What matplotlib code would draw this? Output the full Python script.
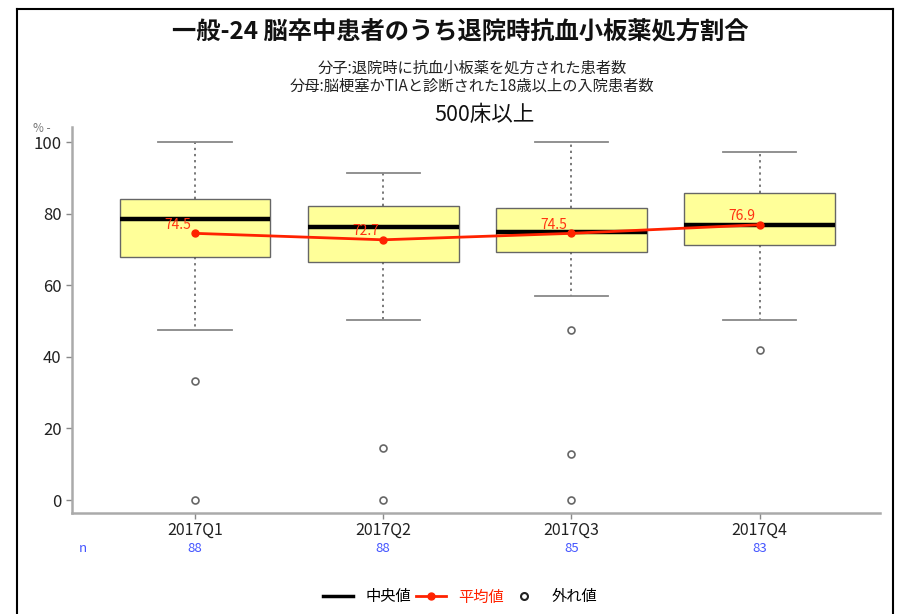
import numpy as np
import matplotlib
matplotlib.use('Agg')
import matplotlib.pyplot as plt
from matplotlib.lines import Line2D

plt.rcParams['font.family'] = ['Noto Sans CJK JP', 'DejaVu Sans']

# data
quarters = ['2017Q1', '2017Q2', '2017Q3', '2017Q4']
n_counts = [88, 88, 85, 83]
whis_lo = [47.5, 50.2, 57.1, 50.2]
q1 = [67.9, 66.6, 69.2, 71.2]
medians = [78.5, 76.3, 74.9, 76.9]
q3 = [84.2, 82.1, 81.7, 85.7]
whis_hi = [100.0, 91.3, 100.0, 97.1]
means = [74.5, 72.7, 74.5, 76.9]
outliers = [[33.3, 0.0], [14.5, 0.0], [47.5, 12.9, 0.0], [41.8]]

title = '一般-24 脳卒中患者のうち退院時抗血小板薬処方割合'
sub1 = '分子:退院時に抗血小板薬を処方された患者数'
sub2 = '分母:脳梗塞かTIAと診断された18歳以上の入院患者数'
group = '500床以上'

W, H = 897, 614
fig = plt.figure(figsize=(W / 100, H / 100), dpi=100)
ax = fig.add_axes([72 / W, 1 - 513 / H, (880 - 72) / W, (513 - 127) / H])

pos = np.arange(1, len(quarters) + 1)
stats = []
for i in range(len(quarters)):
    stats.append(dict(med=medians[i], q1=q1[i], q3=q3[i],
                      whislo=whis_lo[i], whishi=whis_hi[i],
                      fliers=outliers[i]))

ax.bxp(stats, positions=pos, widths=0.8, patch_artist=True,
       showfliers=True,
       boxprops=dict(facecolor='#ffff99', edgecolor='#666666', linewidth=1),
       medianprops=dict(color='black', linewidth=3.2),
       whiskerprops=dict(color='#555555', linestyle=(0, (1.5, 2.5)), linewidth=1.1),
       capprops=dict(color='#888888', linewidth=1.3),
       capwidths=0.39,
       flierprops=dict(marker='o', markerfacecolor='none',
                       markeredgecolor='#666666', markersize=5,
                       markeredgewidth=1.2))

ax.plot(pos, means, color='#ff2200', linewidth=2, marker='o',
        markersize=5, zorder=5)
for x, m in zip(pos, means):
    ax.annotate('%.1f' % m, (x, m), xytext=(-3, 6), textcoords='offset points',
                ha='right', va='center', color='#ff3311', fontsize=10)

ax.set_xlim(0.346, 4.64)
ax.set_ylim(-3.6, 104.2)
ax.set_xticks(pos)
ax.set_xticklabels(quarters, fontsize=11.5, color='#222222')
ax.set_yticks([0, 20, 40, 60, 80, 100])
ax.tick_params(axis='y', labelsize=12, colors='#888888', labelcolor='#222222',
               length=4, width=1)
ax.tick_params(axis='x', colors='#888888', labelcolor='#222222',
               length=4, width=1, pad=2)
for s in ['top', 'right']:
    ax.spines[s].set_visible(False)
for s in ['left', 'bottom']:
    ax.spines[s].set_color('#aaaaaa')
    ax.spines[s].set_linewidth(1.8)

# n row
for x, n in zip(pos, n_counts):
    ax.text(x, -0.093, str(n), transform=ax.get_xaxis_transform(),
            ha='center', va='center', color='#4455ff', fontsize=9.5)
fig.text(83 / W, 1 - 549 / H, 'n', ha='center', va='center',
         color='#4455ff', fontsize=9.5)

fig.text(33 / W, 1 - 128 / H, '% -', ha='left', va='center',
         color='#777777', fontsize=8.5)

# titles
fig.text(460 / W, 1 - 32 / H, title, ha='center', va='center',
         fontsize=17.5, fontweight='bold', color='#111111')
fig.text(472 / W, 1 - 68 / H, sub1, ha='center', va='center',
         fontsize=11, color='#222222')
fig.text(472 / W, 1 - 86 / H, sub2, ha='center', va='center',
         fontsize=11, color='#222222')
fig.text(485 / W, 1 - 115 / H, group, ha='center', va='center',
         fontsize=15.5, color='#111111')

# legend
handles = [Line2D([], [], color='black', linewidth=2.5),
           Line2D([], [], color='#ff2200', linewidth=2, marker='o', markersize=5),
           Line2D([], [], color='none', marker='o', markerfacecolor='none',
                  markeredgecolor='#222222', markeredgewidth=1.5, markersize=5)]
leg = fig.legend(handles, ['中央値', '平均値', '外れ値'], ncol=3,
                 loc='center', bbox_to_anchor=(460 / W, 1 - 597 / H),
                 frameon=False, fontsize=11, handlelength=2,
                 columnspacing=0.3, handletextpad=0.8)
leg.get_texts()[1].set_color('#ff2200')

# outer frame
fig.add_artist(Line2D([17 / W, 17 / W], [0, 1 - 9 / H], color='black',
                      linewidth=1.5, transform=fig.transFigure))
fig.add_artist(Line2D([17 / W, 893 / W], [1 - 9 / H, 1 - 9 / H], color='black',
                      linewidth=1.5, transform=fig.transFigure))
fig.add_artist(Line2D([893 / W, 893 / W], [0, 1 - 9 / H], color='black',
                      linewidth=1.5, transform=fig.transFigure))

fig.savefig('out.png', dpi=100)
